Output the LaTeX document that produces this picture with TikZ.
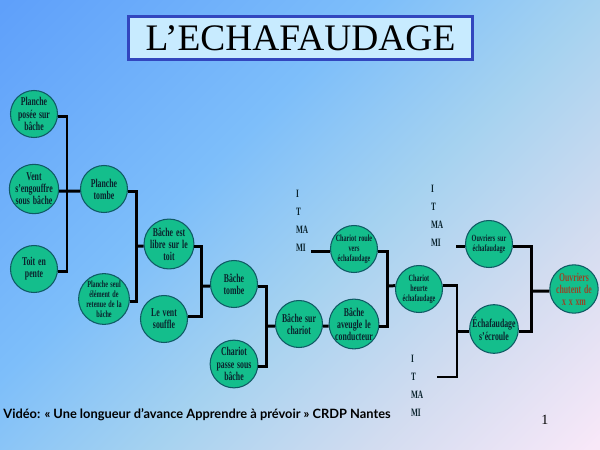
\documentclass[tikz,border=0pt]{standalone}
\usepackage{fontspec}
\usepackage{xcolor}
\setmainfont{Liberation Serif}
\newfontfamily\narrowfont[FakeStretch=0.65,WordSpace=1.5]{Liberation Serif}
\newfontfamily\capfont{Lato}
\definecolor{nodefill}{RGB}{20,190,140}
\definecolor{nodeline}{RGB}{15,90,100}
\definecolor{inkdark}{RGB}{10,35,45}
\definecolor{chutered}{RGB}{150,70,40}
\definecolor{titlefill}{RGB}{200,235,255}
\definecolor{titleline}{RGB}{50,70,190}
\definecolor{bgpink}{RGB}{248,232,248}
\definecolor{bgmauve}{RGB}{210,220,240}
\definecolor{bgpale}{RGB}{165,210,240}
\definecolor{bgsky}{RGB}{125,190,250}
\definecolor{bgblue}{RGB}{95,160,250}
\pgfdeclareverticalshading{slidebg}{100bp}{color(0bp)=(bgpink);
        color(15bp)=(bgpink);
        color(30bp)=(bgmauve);
        color(45bp)=(bgpale);
        color(60bp)=(bgsky);
        color(85bp)=(bgblue);
        color(100bp)=(bgblue)}
\begin{document}
\begin{tikzpicture}[node distance={1.3cm},
        main/.style = {draw=nodeline, line width=0.6pt, circle, fill=nodefill, minimum size=0.94cm, inner sep=0pt, align=center, text=inkdark, font=\narrowfont\bfseries\fontsize{6.8}{6.9}\selectfont},
        small/.style = {font=\narrowfont\bfseries\fontsize{5.4}{5.7}\selectfont},
        itma/.style = {inner sep=0pt, align=left, text=inkdark, font=\narrowfont\bfseries\fontsize{6.4}{10.2}\selectfont},
        link/.style = {line width=1.7pt, black, line join=miter}]
        \useasboundingbox (0,0) rectangle (12,-9);
        \shade[shading=slidebg, shading angle=45] (0,0) rectangle (12,-9);

        \node[draw=titleline, line width=1.2pt, fill=titlefill, minimum width=6.88cm, minimum height=0.86cm, inner sep=0pt, font=\fontsize{21.3}{22}\selectfont] (TI) at (6.01,-0.76) {L’ECHAFAUDAGE};

        \node[main] (PP) at (0.68,-2.28) {Planche\\posée sur\\bâche};
        \node[main] (VE) [below of = PP, node distance=1.5cm] {Vent\\s’engouffre\\sous bâche};
        \node[main] (TP) [below of = VE, node distance=1.6cm] {Toit en\\pente};
        \node[main] (PT) [right of = VE, node distance=1.4cm] {Planche\\tombe};
        \node[main, small] (PS) [below of = PT, node distance=2.2cm] {Planche seul\\élément de\\retenue de la\\bâche};
        \node[main] (BL) [right of = PT, yshift=-1.1cm] {Bâche est\\libre sur le\\toit};
        \node[main] (VS) [below of = BL, node distance=1.5cm, xshift=-0.1cm] {Le vent\\souffle};
        \node[main] (BT) [right of = BL, yshift=-0.8cm] {Bâche\\tombe};
        \node[main] (CP) [below of = BT, node distance=1.6cm] {Chariot\\passe sous\\bâche};
        \node[main] (BC) [right of = BT, yshift=-0.8cm] {Bâche sur\\chariot};
        \node[main] (BA) [right of = BC, node distance=1.1cm] {Bâche\\aveugle le\\conducteur};
        \node[main, small] (CR) [above of = BA, node distance=1.5cm] {Chariot roule\\vers\\échafaudage};
        \node[main, small] (CH) [right of = CR, yshift=-0.8cm] {Chariot\\heurte\\échafaudage};
        \node[main, small] (OS) [right of = CH, node distance=1.4cm, yshift=0.9cm] {Ouvriers sur\\échafaudage};
        \node[main] (EC) [below of = OS, node distance=1.7cm, xshift=0.1cm] {Échafaudage\\s’écroule};
        \node[main, text=chutered] (OC) [right of = CH, node distance=3.1cm] {Ouvriers\\chutent de\\x x xm};

        \node[itma, text width=0.3cm] (IT1) at (6.07,-4.42) {I\\T\\MA\\MI};
        \node[itma, text width=0.5cm] (IT2) at (8.87,-4.31) {I\\T\\MA\\MI};
        \node[itma, text width=0.52cm] (IT3) at (8.48,-7.72) {I\\T\\MA\\MI};

        \coordinate (J1) at (1.34,-3.82);
        \coordinate (J2) at (2.73,-4.92);
        \coordinate (J3) at (4.03,-5.72);
        \coordinate (J4) at (5.33,-6.52);
        \coordinate (J5) at (7.75,-5.72);
        \coordinate (J6) at (9.14,-6.62);
        \coordinate (J7) at (10.63,-5.82);
        \coordinate (E3) at (9.14,-7.54);

        \draw[link] (PP.-5) -| (J1) |- (TP.-5);
        \draw[link] (VE.-5) -- (PT.185);
        \draw[link] (PT.-5) -| (J2) |- (PS.-5);
        \draw[link] (J2) -- (BL.185);
        \draw[link] (BL.-5) -| (J3) |- (VS.5);
        \draw[link] (J3) -- (BT.185);
        \draw[link] (BT.-5) -| (J4) |- (CP.-5);
        \draw[link] (J4) -- (BC.185);
        \draw[link] (BC.-5) -- (BA.185);
        \draw[link] (IT1.east |- CR.185) -- (CR.185);
        \draw[link] (CR.-5) -| (J5) |- (BA.-5);
        \draw[link] (J5) -- (CH.172);
        \draw[link] (CH.8) -| (J6) |- (EC.185);
        \draw[link] (IT3.east |- E3) -| (J6);
        \draw[link] (IT2.east |- OS.185) -- (OS.185);
        \draw[link] (OS.-5) -| (J7) |- (EC.-5);
        \draw[link] (J7) -- (OC.185);

        \node[anchor=west, inner sep=0pt, text=black, font=\capfont\bfseries\fontsize{7.3}{8}\selectfont] (VI) at (0.06,-8.29) {Vidéo: « Une longueur d’avance Apprendre à prévoir » CRDP Nantes};
        \node[inner sep=0pt, font=\fontsize{8}{8}\selectfont] (NU) at (10.9,-8.4) {1};
    \end{tikzpicture}
\end{document}
